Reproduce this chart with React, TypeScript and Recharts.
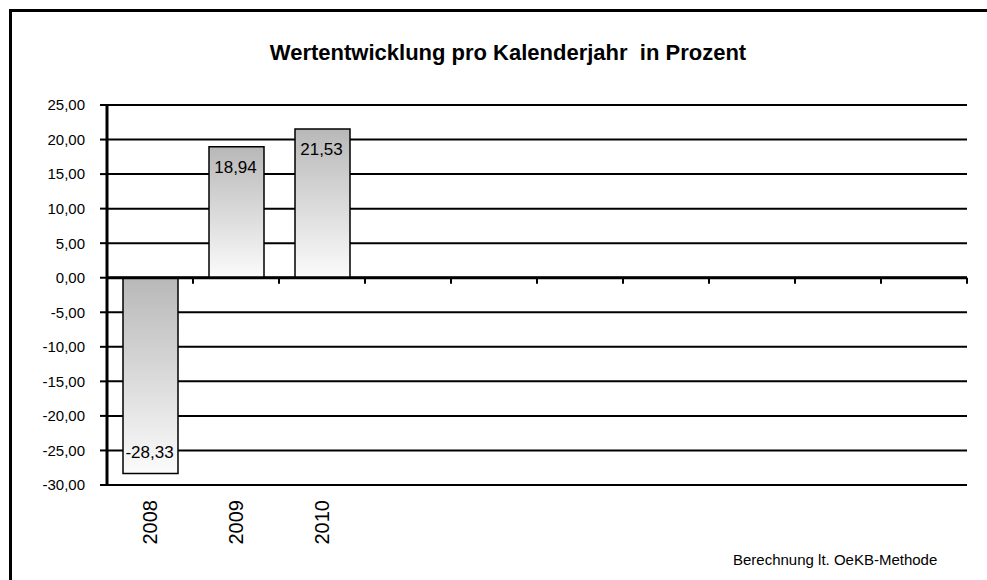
import { BarChart, Bar, XAxis, YAxis, CartesianGrid, ReferenceLine, LabelList } from "recharts";

const years = ["2008", "2009", "2010", "", "", "", "", "", "", ""];
const returns: (number | null)[] = [-28.33, 18.94, 21.53, null, null, null, null, null, null, null];
const yTicks = [-30, -25, -20, -15, -10, -5, 0, 5, 10, 15, 20, 25];

const data = years.map((year, i) => ({ year, value: returns[i] }));

const fmt = (v: number) => v.toFixed(2).replace(".", ",");

const FONT = "'Liberation Sans', Arial, sans-serif";

function YearTick(props: any) {
  const { x, y, payload } = props;
  if (!payload.value) return null;
  return (
    <text
      x={x}
      y={y}
      transform={`rotate(-90, ${x}, ${y})`}
      textAnchor="end"
      dominantBaseline="central"
      fontSize={20}
      fontFamily={FONT}
      fill="#000"
    >
      {payload.value}
    </text>
  );
}

function ValueLabel(props: any) {
  const vb = props.viewBox ?? props;
  const { value } = props;
  if (value === null || value === undefined) return null;
  const top = Math.min(vb.y, vb.y + vb.height);
  const bottom = Math.max(vb.y, vb.y + vb.height);
  const cy = value >= 0 ? top + 21 : bottom - 21;
  return (
    <text
      x={vb.x + vb.width / 2 - 1}
      y={cy}
      textAnchor="middle"
      dominantBaseline="central"
      fontSize={17}
      fontFamily={FONT}
      fill="#000"
    >
      {fmt(value)}
    </text>
  );
}

// zero line with the category-boundary tick marks hanging below it
function ZeroLine(props: any) {
  const { x1, y1, x2, y2 } = props;
  const n = years.length;
  const step = (x2 - x1) / n;
  return (
    <g>
      <line x1={x1} y1={y1} x2={x2} y2={y2} stroke="#000" strokeWidth={3} />
      {years.map((_, i) => (
        <line
          key={i}
          x1={x1 + (i + 1) * step}
          x2={x1 + (i + 1) * step}
          y1={y1}
          y2={y1 + 6}
          stroke="#000"
          strokeWidth={2}
        />
      ))}
    </g>
  );
}

export default function App() {
  return (
    <div
      style={{
        position: "absolute",
        left: 0,
        top: 0,
        width: 987,
        height: 580,
        overflow: "hidden",
        background: "#fff",
        fontFamily: FONT,
      }}
    >
      <div
        style={{
          position: "absolute",
          left: 9,
          top: 9,
          width: 1000,
          height: 600,
          borderLeft: "3px solid #000",
          borderTop: "3px solid #000",
        }}
      />
      <div
        style={{
          position: "absolute",
          left: 208,
          top: 40,
          width: 600,
          textAlign: "center",
          fontWeight: "bold",
          fontSize: 22,
          whiteSpace: "pre",
          color: "#000",
        }}
      >
        Wertentwicklung pro Kalenderjahr  in Prozent
      </div>
      <div
        style={{
          position: "absolute",
          left: 733,
          top: 551,
          fontSize: 15,
          color: "#000",
          whiteSpace: "pre",
        }}
      >
        Berechnung lt. OeKB-Methode
      </div>
      <div style={{ position: "absolute", left: 0, top: 0 }}>
        <BarChart
          width={987}
          height={580}
          data={data}
          margin={{ top: 105, right: 20, left: 47, bottom: 35 }}
          barSize={55}
        >
          <defs>
            <linearGradient id="barFill" x1="0" y1="0" x2="0" y2="1">
              <stop offset="0%" stopColor="#b8b8b8" />
              <stop offset="100%" stopColor="#fbfbfb" />
            </linearGradient>
          </defs>
          <CartesianGrid vertical={false} stroke="#000" strokeWidth={2} />
          <XAxis
            dataKey="year"
            axisLine={false}
            tickLine={false}
            tickSize={0}
            tickMargin={15}
            height={60}
            interval={0}
            tick={<YearTick />}
          />
          <YAxis
            domain={[-30, 25]}
            ticks={yTicks}
            interval={0}
            width={60}
            tickFormatter={fmt}
            axisLine={{ stroke: "#000", strokeWidth: 3 }}
            tickLine={{ stroke: "#000", strokeWidth: 2 }}
            tickSize={7}
            tickMargin={15}
            tick={{ fill: "#000", fontSize: 15, fontFamily: FONT }}
          />
          <Bar
            dataKey="value"
            fill="url(#barFill)"
            stroke="#000"
            strokeWidth={1.5}
            isAnimationActive={false}
          >
            <LabelList dataKey="value" content={<ValueLabel />} />
          </Bar>
          <ReferenceLine y={0} shape={<ZeroLine />} />
        </BarChart>
      </div>
    </div>
  );
}
